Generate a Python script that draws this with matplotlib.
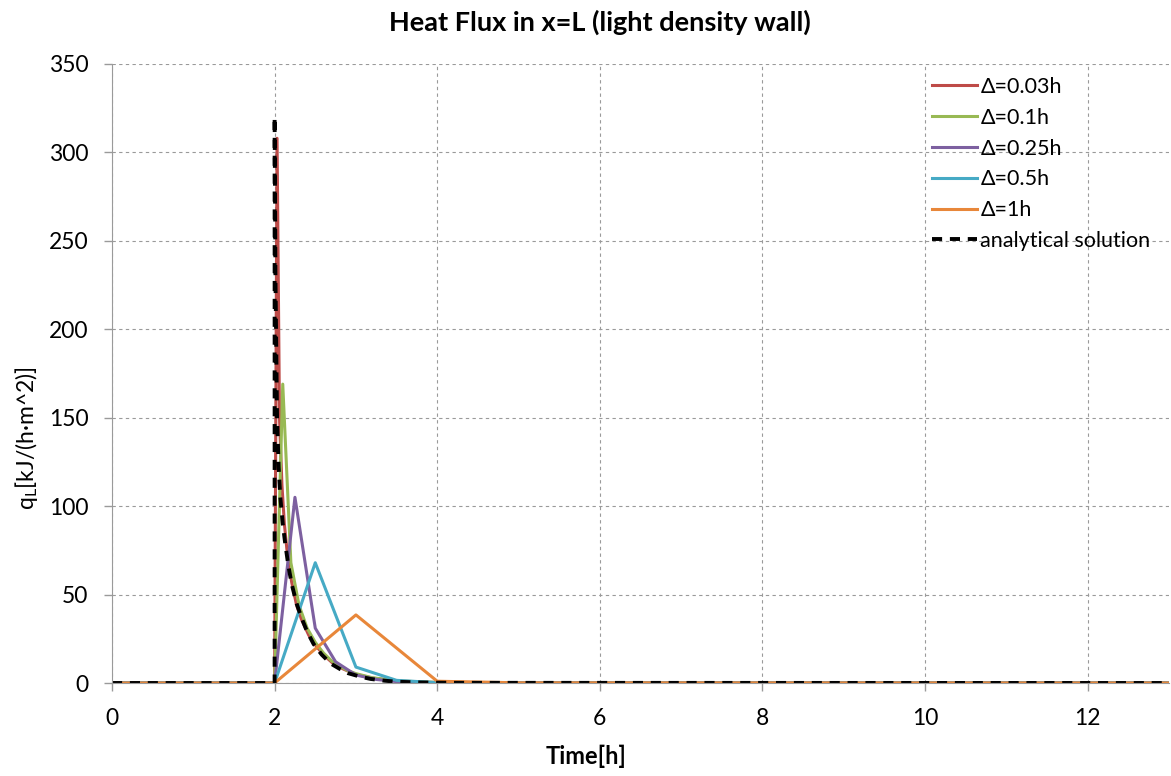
import matplotlib
matplotlib.use('Agg')
import matplotlib.pyplot as plt

plt.rcParams['font.family'] = ['Lato', 'DejaVu Sans']
plt.rcParams['mathtext.fontset'] = 'custom'
plt.rcParams['mathtext.rm'] = 'Lato'

# data
t_003 = [0, 2.0, 2.03, 2.06, 2.09, 2.12, 2.15, 2.18, 2.21, 2.27, 2.33, 2.42,
         2.51, 2.6, 2.72, 2.84, 2.99, 3.2, 3.5, 3.8, 4.1, 13]
q_003 = [0, 0, 308, 150, 112, 90, 76, 65, 57, 44, 36, 27,
         21, 16, 11, 8, 5, 2.8, 1.2, 0.5, 0.2, 0]

t_01 = [0, 2.0, 2.1, 2.2, 2.3, 2.4, 2.5, 2.6, 2.7, 2.8, 2.9, 3.0, 3.2, 3.5, 4.0, 13]
q_01 = [0, 0, 169, 68, 44, 31, 23, 17, 12.5, 9.5, 7, 5.3, 3, 1.2, 0.3, 0]

t_025 = [0, 2.0, 2.25, 2.5, 2.75, 3.0, 3.25, 3.5, 3.75, 4.0, 13]
q_025 = [0, 0, 105, 31, 12, 4.5, 2, 0.8, 0.3, 0.1, 0]

t_05 = [0, 2.0, 2.5, 3.0, 3.5, 4.0, 4.5, 13]
q_05 = [0, 0, 68, 9, 1.5, 0.2, 0, 0]

t_1 = [0, 2, 3, 4, 5, 13]
q_1 = [0, 0, 38.5, 1, 0.1, 0]

t_an = [0, 2.0, 2.0, 2.01, 2.03, 2.05, 2.07, 2.1, 2.13, 2.17, 2.21, 2.27, 2.33,
        2.4, 2.48, 2.58, 2.69, 2.8, 2.9, 3.05, 3.18, 3.35, 3.51, 3.8, 4.2, 13]
q_an = [0, 0, 320, 230, 150, 122, 105, 90, 79, 66, 56, 45, 37,
        29, 22, 16, 11, 8, 5.6, 3.6, 2.3, 1.3, 0.7, 0.3, 0.1, 0]

W, H = 1171, 776
fig = plt.figure(figsize=(W / 100, H / 100), dpi=100)
ax = fig.add_axes([112 / W, 1 - 683 / H, (1169 - 112) / W, (683 - 64) / H])

lw = 2.2
ax.plot(t_003, q_003, color='#BE4B48', lw=lw, label='Δ=0.03h')
ax.plot(t_01, q_01, color='#98B954', lw=lw, label='Δ=0.1h')
ax.plot(t_025, q_025, color='#7D60A0', lw=lw, label='Δ=0.25h')
ax.plot(t_05, q_05, color='#46AAC5', lw=lw, label='Δ=0.5h')
ax.plot(t_1, q_1, color='#E8873A', lw=lw, label='Δ=1h')
ax.plot(t_an, q_an, color='black', lw=2.8, dashes=(2.6, 2.0), label='analytical solution')

ax.set_xlim(0, 13)
ax.set_ylim(0, 350)
ax.set_xticks(range(0, 13, 2))
ax.set_yticks(range(0, 351, 50))
ax.grid(True, color='#9a9a9a', linestyle=(0, (3, 3)), linewidth=0.8)
for s in ['top', 'right']:
    ax.spines[s].set_visible(False)
for s in ['left', 'bottom']:
    ax.spines[s].set_color('#9a9a9a')
ax.tick_params(colors='#9a9a9a', labelcolor='black', labelsize=16.5, length=6, width=1)
ax.tick_params(axis='y', pad=11)
ax.tick_params(axis='x', pad=12)

fig.text(600 / W, 1 - 22 / H, 'Heat Flux in x=L (light density wall)', fontsize=19.5,
         fontweight='bold', ha='center', va='center')
fig.text(586 / W, 1 - 756 / H, 'Time[h]', fontsize=17, fontweight='bold',
         ha='center', va='center')
fig.text(26 / W, 1 - 438 / H, r'q$_\mathrm{L}$[kJ/(h·m^2)]', fontsize=16.5,
         rotation=90, rotation_mode='anchor', ha='center', va='center')

ax.legend(loc='upper left', bbox_to_anchor=(932 / W, 1 - 77 / H),
          bbox_transform=fig.transFigure, frameon=False, fontsize=15.5,
          borderpad=0, borderaxespad=0,
          handlelength=2.1, handletextpad=0.15, labelspacing=0.5)

fig.savefig('out.png', dpi=100)
